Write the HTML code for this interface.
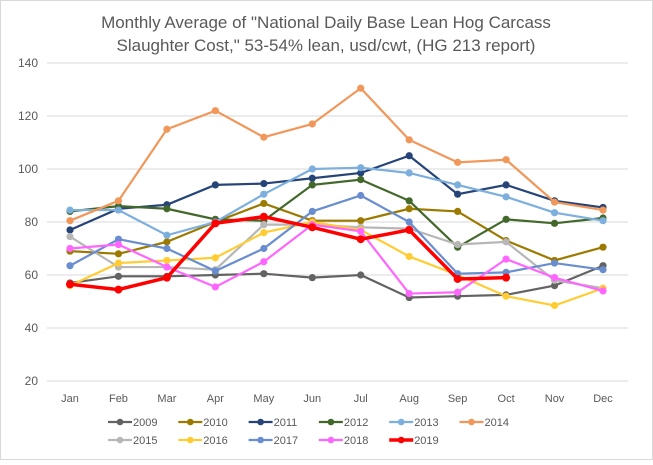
<!DOCTYPE html>
<html><head><meta charset="utf-8"><style>
body{margin:0;background:#fff;font-family:"Liberation Sans",sans-serif}
svg text{font-family:"Liberation Sans",sans-serif}
</style></head><body>
<svg id="chart" width="653" height="460">
<rect x="0.5" y="0.5" width="652" height="459" fill="#fff" stroke="#d9d9d9"/>
<text x="326" y="28" text-anchor="middle" font-size="17" fill="#595959">Monthly Average of "National Daily Base Lean Hog Carcass</text>
<text x="326" y="51" text-anchor="middle" font-size="17" fill="#595959">Slaughter Cost," 53-54% lean, usd/cwt, (HG 213 report)</text>
<g id="grid"></g><g id="series"></g><g id="legend"></g>
</svg>
<script>
const months=["Jan","Feb","Mar","Apr","May","Jun","Jul","Aug","Sep","Oct","Nov","Dec"];
const yTicks=[20,40,60,80,100,120,140];
const years=["2009","2010","2011","2012","2013","2014","2015","2016","2017","2018","2019"];
const colors=["#636363","#9c7a00","#264478","#43682b","#7cafdd","#f1975a","#b7b7b7","#ffcd33","#698ed0","#ff66ff","#ff0000"];
const v2009=[57,59.5,59.5,60,60.5,59,60,51.5,52,52.5,56,63.5];
const v2010=[69,68,72.5,80,87,80.5,80.5,85,84,73,65.5,70.5];
const v2011=[77,85,86.5,94,94.5,96.5,98.5,105,90.5,94,88,85.5];
const v2012=[84,86,85,81,80.5,94,96,88,70.5,81,79.5,81.5];
const v2013=[84.5,84.5,75,80,90.5,100,100.5,98.5,94,89.5,83.5,80.5];
const v2014=[80.5,88,115,122,112,117,130.5,111,102.5,103.5,87.5,84.5];
const v2015=[74.5,63,63,62,79,79,78,77.5,71.5,72.5,58,55];
const v2016=[56,64.5,65.5,66.5,76,80,77,67,60,52,48.5,55];
const v2017=[63.5,73.5,70,61.5,70,84,90,80,60.5,61,64.5,62];
const v2018=[70,71.5,63,55.5,65,79,76.5,53,53.5,66,59,54];
const v2019=[56.5,54.5,59,79.5,82,78,73.5,77,58.5,59];
const allSeries=[v2009,v2010,v2011,v2012,v2013,v2014,v2015,v2016,v2017,v2018,v2019];
const NS="http://www.w3.org/2000/svg";
const xS=i=>70+i*(603-70)/11;
const yS=v=>381-(v-20)*(318/120);
function mk(t,a,p){const e=document.createElementNS(NS,t);for(const k in a)e.setAttribute(k,a[k]);p.appendChild(e);return e;}
const grid=document.getElementById('grid');
yTicks.forEach(t=>{
 const l=mk('line',{x1:47,x2:628,y1:yS(t),y2:yS(t),stroke:'#d9d9d9','stroke-width':1},grid);
 
 
 const tx=mk('text',{x:38,y:yS(t)+4,'text-anchor':'end','font-size':12,fill:'#595959'},grid);tx.textContent=t;
 
 
});
months.forEach((m,i)=>{
 const tx=mk('text',{x:xS(i),y:402,'text-anchor':'middle','font-size':11,fill:'#595959'},grid);tx.textContent=m;
 
 
});
const sg=document.getElementById('series');
allSeries.forEach((s,k)=>{
 const g=mk('g',{},sg);
 
 
 const w=k==10?3.5:2.2;
 mk('polyline',{points:s.map((v,i)=>xS(i)+','+yS(v)).join(' '),fill:'none',stroke:colors[k],'stroke-width':w},g);
 s.forEach((v,i)=>{const c=mk('circle',{cx:xS(i),cy:yS(v),r:k==10?4:3.6,fill:colors[k]},g);
  
  });
});
const lg=document.getElementById('legend');
years.forEach((y,k)=>{
 const row=k<6?0:1,col=k<6?k:k-6;
 const x=108+col*70.3,yy=row?440:422;
 const g=mk('g',{},lg);
 
 
 mk('line',{x1:x,x2:x+24,y1:yy,y2:yy,stroke:colors[k],'stroke-width':k==10?3.5:2.2},g);
 mk('circle',{cx:x+12,cy:yy,r:3.3,fill:colors[k]},g);
 const t=mk('text',{x:x+25,y:yy+4,'font-size':11,fill:'#595959'},g);t.textContent=y;
});
</script>
</body></html>
